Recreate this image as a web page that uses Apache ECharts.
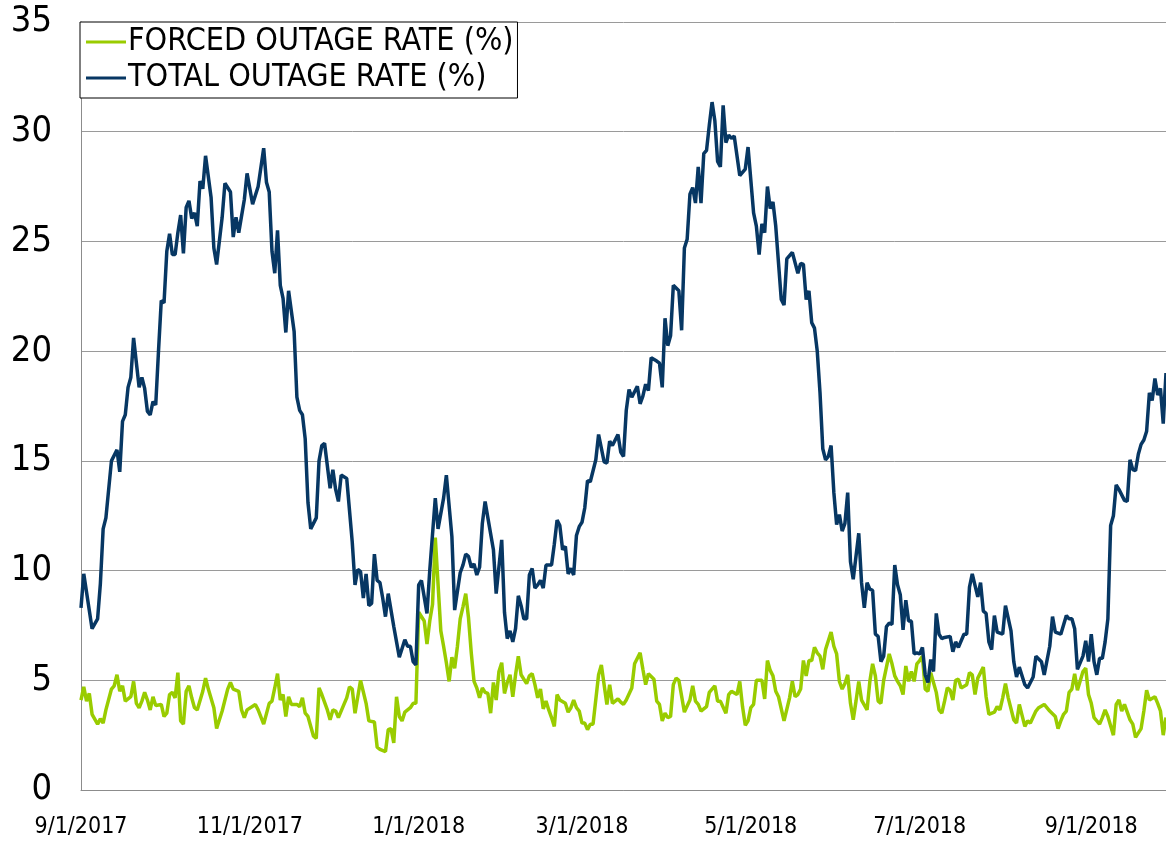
<!DOCTYPE html>
<html>
<head>
<meta charset="utf-8">
<script src="https://cdn.jsdelivr.net/npm/echarts@6/dist/echarts.min.js"></script>
<style>
  html, body { margin: 0; padding: 0; background: #fff; }
  #main-chart { width: 1166px; height: 844px; }
</style>
</head>
<body>
<div id="main-chart"></div>
<script>
// Daily outage rates, 9/1/2017 - 9/28/2018. Values
// at each visible turning point (day = days since 9/1/2017).
var startDate = Date.UTC(2017, 8, 1);
var dayCount = 393;

var totalDays = [0,1,4,6,7,8,9,11,13,14,15,16,17,18,19,21,22,23,24,25,26,27,28,29,30,31,32,33,34,35,36,37,38,39,40,41,42,43,44,45,47,48,49,51,52,54,55,56,57,59,60,62,64,
    66,67,68,69,70,71,72,73,74,75,77,78,79,80,81,82,83,85,86,87,88,90,91,92,93,94,96,97,98,99,100,101,102,103,104,105,106,107,108,109,110,111,113,114,115,117,118,119,120,121,122,123,125,126,
    128,129,131,132,134,135,137,138,139,140,141,142,143,144,145,146,147,149,150,152,153,154,155,156,157,158,159,160,161,162,163,164,165,166,167,168,170,171,172,173,174,175,176,177,178,179,180,181,182,183,184,186,187,
    189,190,191,192,194,195,196,197,198,199,201,202,203,204,205,206,208,209,210,211,212,213,214,216,217,218,219,220,221,222,223,224,225,226,227,228,229,230,231,232,233,234,235,236,238,240,241,243,244,245,246,247,248,249,
    250,251,253,254,255,257,259,260,261,262,263,264,265,266,267,268,269,270,271,272,273,274,275,276,277,278,279,280,281,282,283,284,285,286,287,288,289,290,291,292,293,294,295,296,297,298,299,300,301,302,303,304,305,306,307,308,309,310,311,
    312,314,315,316,317,319,320,321,322,324,325,326,327,328,329,330,331,333,334,336,337,338,339,341,342,344,345,347,348,350,351,352,354,356,357,358,359,360,362,363,364,365,366,367,368,369,370,371,372,373,374,375,377,378,379,380,381,382,383,384,385,386,387,388,389,390,391,392];
var totalRate = [8.3,9.85,7.35,7.8,9.4,11.9,12.4,15.0,15.5,14.5,16.8,17.1,18.35,18.8,20.6,18.35,18.8,18.3,17.25,17.1,17.7,17.55,20.0,22.3,22.2,24.55,25.35,24.4,24.4,25.4,26.2,24.45,26.55,26.85,26.05,26.3,25.7,27.75,27.4,28.9,27.0,24.7,23.95,26.1,27.65,27.25,25.2,26.1,25.4,26.9,28.1,26.7,27.5,
    29.25,27.7,27.25,24.55,23.55,25.5,23.0,22.4,20.85,22.75,20.9,17.9,17.3,17.1,16.0,13.1,11.9,12.4,15.0,15.7,15.8,13.75,14.6,13.7,13.15,14.35,14.2,12.75,11.3,9.35,10.05,9.95,8.75,9.85,8.4,8.5,10.75,9.55,9.45,8.75,7.9,8.95,7.45,6.75,6.05,6.85,6.55,6.55,5.85,5.7,9.35,9.55,8.05,10.0,
    13.3,11.9,13.3,14.35,11.55,8.2,9.9,10.25,10.75,10.65,10.15,10.3,9.8,10.15,12.15,13.15,12.4,10.95,8.95,11.4,8.1,6.9,7.25,6.75,7.35,8.85,8.4,7.8,7.8,9.8,10.1,9.2,9.35,9.55,9.2,10.25,10.25,11.2,12.3,12.05,10.95,11.1,9.85,10.1,9.8,11.6,12.0,12.2,12.85,14.1,14.05,15.05,16.2,
    14.95,14.9,15.9,15.7,16.2,15.4,15.2,17.3,18.25,17.9,18.4,17.6,17.95,18.5,18.2,19.7,19.55,19.45,18.35,21.5,20.25,20.7,23.0,22.75,20.95,24.7,25.1,27.15,27.45,26.75,28.4,26.75,29.0,29.15,30.3,31.35,30.5,28.65,28.4,31.2,29.5,29.85,29.7,29.8,28.0,28.3,29.3,26.3,25.7,24.4,25.8,25.4,27.5,26.5,
    26.8,25.7,22.35,22.1,24.2,24.5,23.55,24.0,23.95,22.35,22.75,21.3,21.05,20.0,18.1,15.55,15.05,15.2,15.7,13.55,12.1,12.55,11.8,12.15,13.55,10.4,9.6,10.65,11.7,9.45,8.3,9.45,9.15,9.1,7.1,7.0,5.85,6.1,7.45,7.6,7.55,10.25,9.35,8.9,7.3,8.65,7.7,7.7,6.2,6.25,6.2,6.5,5.25,4.9,5.95,5.4,8.05,7.1,6.9,
    6.95,7.0,6.3,6.75,6.5,7.1,7.1,9.25,9.85,8.8,9.45,8.15,8.05,6.75,6.4,7.95,7.2,7.1,8.4,7.25,5.85,5.15,5.6,4.8,4.65,5.15,6.1,5.85,5.25,6.55,7.9,7.2,7.1,7.95,7.8,7.8,7.35,5.5,6.1,6.8,5.85,7.1,5.85,5.25,6.0,6.0,6.75,7.8,12.05,12.5,13.9,13.7,13.2,13.15,15.05,14.6,14.55,15.3,15.75,15.95,16.35,18.1,17.75,18.75,18.0,18.3,16.7,19.0];

var forcedDays = [0,1,2,3,4,6,7,8,9,11,12,13,14,15,16,18,19,20,21,22,23,24,25,26,27,29,30,31,32,33,34,35,36,37,38,39,40,41,42,44,45,46,48,49,51,53,54,55,57,58,59,60,63,64,
    66,68,69,70,71,72,73,74,75,76,78,79,80,81,82,84,85,86,87,89,90,91,92,93,95,96,97,98,99,100,101,103,104,106,107,108,110,111,112,113,114,115,116,117,119,120,121,122,124,125,126,127,128,
    130,131,132,133,134,135,136,137,138,139,140,141,142,143,144,145,146,147,148,149,150,151,152,153,154,155,156,157,158,159,161,162,163,164,165,166,167,168,169,170,171,172,173,175,176,177,178,179,180,181,182,183,184,185,187,188,
    190,191,192,194,195,196,197,199,200,202,203,204,205,207,208,209,210,211,212,213,214,215,216,218,220,221,222,223,224,226,227,229,230,231,233,234,235,237,238,239,240,241,242,243,244,246,247,248,249,
    250,251,252,254,256,257,258,259,260,261,262,263,264,265,266,267,268,269,271,272,273,274,275,276,277,278,279,280,281,282,284,285,286,287,288,289,290,292,293,294,295,296,297,298,299,300,301,302,303,304,305,306,307,309,310,311,
    312,313,314,315,316,317,318,320,321,322,323,324,326,327,328,330,331,332,333,334,335,337,338,339,341,342,343,345,346,348,350,352,353,354,355,356,357,358,359,360,362,363,364,365,366,368,369,370,371,373,374,375,376,377,379,380,381,383,384,385,386,388,389,390,391,392];
var forcedRate = [4.1,4.7,4.05,4.4,3.45,3.0,3.25,3.05,3.65,4.6,4.75,5.25,4.5,4.75,4.05,4.25,4.95,3.95,3.75,4.05,4.45,4.1,3.65,4.25,3.85,3.9,3.35,3.5,4.35,4.45,4.2,5.35,3.15,3.0,4.5,4.75,4.2,3.75,3.65,4.5,5.1,4.6,3.75,2.8,3.6,4.6,4.9,4.6,4.5,3.65,3.3,3.65,3.9,3.65,
    3.0,3.95,4.05,4.65,5.3,4.1,4.35,3.35,4.25,3.9,3.9,3.8,4.2,3.5,3.35,2.45,2.35,4.65,4.35,3.65,3.2,3.65,3.6,3.3,3.9,4.2,4.7,4.6,3.5,4.25,5.0,3.95,3.15,3.1,1.95,1.85,1.75,2.75,2.8,2.15,4.25,3.35,3.15,3.55,3.75,3.95,3.95,8.1,7.7,6.65,7.7,8.45,11.5,
    7.25,6.55,5.8,4.95,6.05,5.55,6.55,7.8,8.35,8.95,7.85,6.25,4.95,4.65,4.2,4.65,4.45,4.4,3.5,4.9,4.1,5.4,5.8,4.4,4.9,5.25,4.25,5.25,6.1,5.25,4.85,5.2,5.3,4.8,4.2,4.6,3.7,4.05,3.65,3.3,2.9,4.35,4.1,3.95,3.55,3.75,4.1,3.75,3.6,3.05,3.05,2.75,3.0,3.0,5.25,5.7,
    3.9,4.8,3.95,4.15,4.0,3.9,4.1,4.65,5.75,6.25,5.5,4.8,5.3,5.05,4.05,3.9,3.15,3.5,3.3,3.35,4.8,5.1,5.0,3.55,4.1,4.75,4.05,3.9,3.6,3.8,4.45,4.75,4.05,4.05,3.5,4.35,4.5,4.35,4.95,3.8,2.95,3.15,3.75,3.9,5.0,5.0,4.15,5.9,5.45,
    5.2,4.5,4.25,3.15,4.2,4.95,4.25,4.35,4.6,5.9,5.2,5.9,5.9,6.5,6.25,6.1,5.5,6.4,7.2,6.55,6.2,4.95,4.6,4.85,5.25,3.95,3.2,4.05,4.95,4.1,3.65,4.95,5.75,5.2,4.05,3.95,5.0,6.2,5.75,5.2,4.95,4.75,4.35,5.65,4.95,5.4,4.95,5.75,5.9,6.1,4.6,4.5,5.35,4.45,3.65,3.5,
    4.05,4.65,4.55,4.1,5.0,5.05,4.65,4.8,5.35,5.25,4.35,5.1,5.6,4.25,3.45,3.55,3.8,3.65,4.2,4.85,4.2,3.2,3.05,3.9,2.9,3.15,3.05,3.6,3.75,3.9,3.6,3.35,2.8,3.15,3.45,3.6,4.45,4.6,5.3,4.55,5.4,5.55,4.35,3.95,3.3,3.0,3.3,3.65,3.35,2.5,3.9,4.1,3.6,3.9,3.2,3.0,2.4,2.8,3.6,4.55,4.1,4.25,3.95,3.6,2.5,3.3];

var yTicks = { min: 0, max: 35, step: 5 };

function fmtDay(i) {
    var d = new Date(startDate + i * 86400000);
    return (d.getUTCMonth() + 1) + '/' + d.getUTCDate() + '/' + d.getUTCFullYear();
}

function toDaily(days, vals) {
    var out = new Array(dayCount).fill(null);
    days.forEach(function (d, k) { out[d] = vals[k]; });
    return out;
}

document.addEventListener('DOMContentLoaded', function () {
    var myChart = echarts.init(document.getElementById('main-chart'));

    var categories = [];
    for (var i = 0; i < dayCount; i++) categories.push(fmtDay(i));

    // label only the first day of every other month (Sep, Nov, Jan, ...)
    function isLabelDay(index, value) {
        var p = value.split('/');
        return p[1] === '1' && (+p[0]) % 2 === 1;
    }

    var font = '"DejaVu Sans Condensed", "Liberation Sans", sans-serif';

    var option = {
        animation: false,
        backgroundColor: '#fff',
        grid: { left: 81, right: 0, top: 22, bottom: 54, containLabel: false },
        legend: {
            orient: 'vertical',
            left: 80,
            top: 22,
            padding: [4, 4, 4, 6],
            itemGap: 4,
            itemWidth: 40,
            itemHeight: 3,
            icon: 'rect',
            borderColor: '#000',
            borderWidth: 1,
            backgroundColor: '#fff',
            textStyle: { fontFamily: font, fontSize: 32, color: '#000', padding: [0, 0, 0, -3] },
            data: ['FORCED OUTAGE RATE (%)', 'TOTAL OUTAGE RATE (%)']
        },
        xAxis: {
            type: 'category',
            data: categories,
            boundaryGap: false,
            axisLine: { lineStyle: { color: '#8c8c8c', width: 1 } },
            axisTick: { show: false },
            axisLabel: {
                interval: isLabelDay,
                fontFamily: font,
                fontSize: 23,
                color: '#000',
                margin: 26
            },
            splitLine: { show: false }
        },
        yAxis: {
            type: 'value',
            min: yTicks.min,
            max: yTicks.max,
            interval: yTicks.step,
            axisLine: { show: true, lineStyle: { color: '#8c8c8c', width: 1 } },
            axisTick: { show: false },
            axisLabel: { fontFamily: font, fontSize: 36, color: '#000', margin: 29 },
            splitLine: { lineStyle: { color: '#9a9a9a', width: 1 } }
        },
        series: [{
            name: 'FORCED OUTAGE RATE (%)',
            type: 'line',
            data: toDaily(forcedDays, forcedRate),
            connectNulls: true,
            showSymbol: false,
            symbol: 'none',
            itemStyle: { color: '#99cc00' },
            lineStyle: { color: '#99cc00', width: 3.5 }
        }, {
            name: 'TOTAL OUTAGE RATE (%)',
            type: 'line',
            data: toDaily(totalDays, totalRate),
            connectNulls: true,
            showSymbol: false,
            symbol: 'none',
            itemStyle: { color: '#073763' },
            lineStyle: { color: '#073763', width: 3.5 }
        }]
    };

    myChart.setOption(option);
});
</script>
</body>
</html>
